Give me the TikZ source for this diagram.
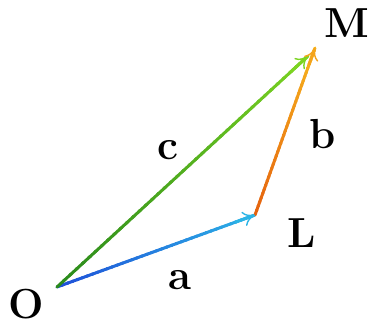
\documentclass[tikz,border=0pt]{standalone}
\usetikzlibrary{arrows.meta,calc}
\definecolor{aStart}{HTML}{1E4FD8}
\definecolor{aEnd}{HTML}{2CB4E6}
\definecolor{bStart}{HTML}{E5620E}
\definecolor{bEnd}{HTML}{F7B51E}
\definecolor{cStart}{HTML}{2A8A1C}
\definecolor{cEnd}{HTML}{7CD422}
\tikzset{
  lbl/.style={font=\fontsize{42}{46}\selectfont\bfseries, inner sep=0pt, anchor=center},
  vec/.style={line width=3pt, line cap=round},
  tip/.style={-{To[length=12pt,width=15pt,line width=1.4pt]}, line width=3pt}
}
\begin{document}
\begin{tikzpicture}[x=1pt,y=-1pt]
\useasboundingbox (0,0) rectangle (372,326);
\coordinate (O) at (57,287);
\coordinate (L) at (255,215);
\coordinate (M) at (315,48);
\coordinate (Mc) at (308,56);
% vector a
\foreach \i in {0,...,39}{
  \pgfmathsetmacro{\ta}{\i/40}\pgfmathsetmacro{\tb}{min((\i+1.3)/40,1)}
  \pgfmathsetmacro{\p}{100-\i*2.5}
  \draw[vec, color=aStart!\p!aEnd] ($(O)!\ta!(L)$) -- ($(O)!\tb!(L)$);
}
% vector c
\foreach \i in {0,...,39}{
  \pgfmathsetmacro{\ta}{\i/40}\pgfmathsetmacro{\tb}{min((\i+1.3)/40,1)}
  \pgfmathsetmacro{\p}{100-\i*2.5}
  \draw[vec, color=cStart!\p!cEnd] ($(O)!\ta!(Mc)$) -- ($(O)!\tb!(Mc)$);
}
% vector b
\foreach \i in {0,...,39}{
  \pgfmathsetmacro{\ta}{\i/40}\pgfmathsetmacro{\tb}{min((\i+1.3)/40,1)}
  \pgfmathsetmacro{\p}{100-\i*2.5}
  \draw[vec, color=bStart!\p!bEnd] ($(L)!\ta!(M)$) -- ($(L)!\tb!(M)$);
}
\draw[tip, aEnd] ($(O)!0.9!(L)$) -- (L);
\draw[tip, cEnd] ($(O)!0.93!(Mc)$) -- (Mc);
\draw[tip, bEnd!80!bStart] ($(L)!0.9!(M)$) -- (M);
\node[lbl] (lO) at (26,304) {O};
\node[lbl] (lL) at (302,233) {L};
\node[lbl] (lM) at (347,23) {M};
\node[lbl] (la) at (180,280) {a};
\node[lbl] (lb) at (323,134) {b};
\node[lbl] (lc) at (168,150) {c};
\end{tikzpicture}
\end{document}
